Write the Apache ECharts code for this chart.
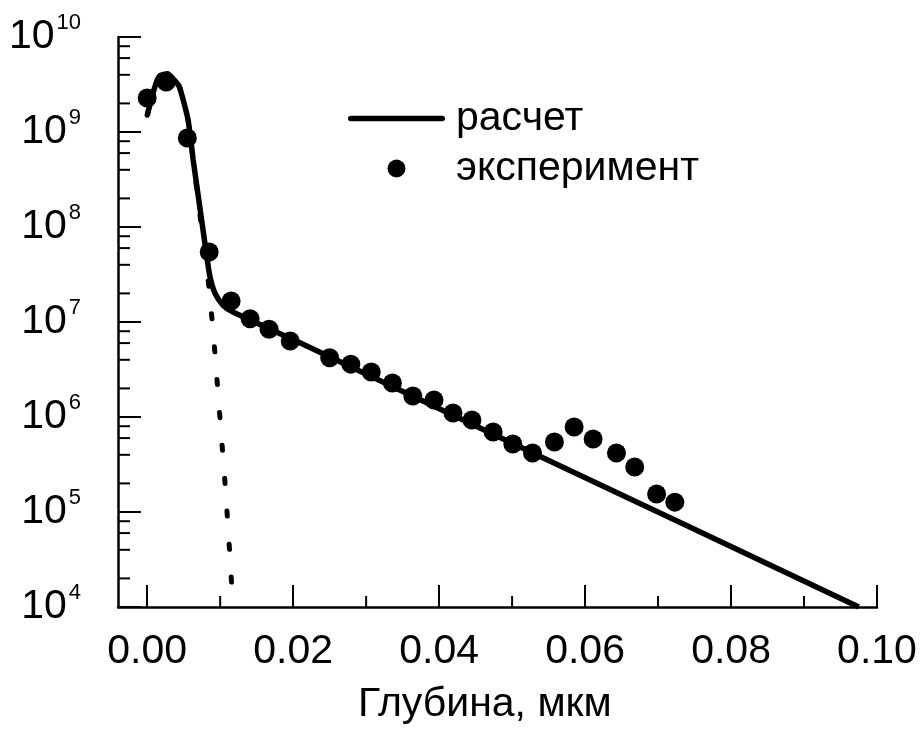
<!DOCTYPE html>
<html>
<head>
<meta charset="utf-8">
<script src="https://cdn.jsdelivr.net/npm/echarts@6/dist/echarts.min.js"></script>
<style>
html,body{margin:0;padding:0;background:#fff;}
#chart{width:923px;height:729px;}
</style>
</head>
<body>
<div id="chart"></div>
<script>
// ---- data ----
const expDepth = [0.0000, 0.0026, 0.0055, 0.0085, 0.0115, 0.0141, 0.0167, 0.0196, 0.0250, 0.0279, 0.0307, 0.0336, 0.0364, 0.0393, 0.0419, 0.0445, 0.0474, 0.0501, 0.0528, 0.0558, 0.0585, 0.0611, 0.0643, 0.0668, 0.0698, 0.0723];
const expConc  = [2.28e9, 3.36e9, 8.65e8, 5.46e7, 1.66e7, 1.08e7, 8.4e6, 6.3e6, 4.2e6, 3.6e6, 2.98e6, 2.28e6, 1.66e6, 1.51e6, 1.1e6, 9.3e5, 6.95e5, 5.2e5, 4.18e5, 5.46e5, 7.85e5, 5.87e5, 4.18e5, 2.98e5, 1.55e5, 1.27e5];

const calcDepth = [0.0000, 0.0010, 0.0017, 0.0028, 0.0036, 0.0044, 0.0056, 0.0063, 0.0072, 0.0081, 0.0086, 0.0093, 0.0104, 0.0117, 0.0210, 0.0540, 0.0975];
const calcConc  = [1.5e9, 2.9e9, 3.9e9, 4.1e9, 3.6e9, 3.0e9, 1.34e9, 5.1e8, 1.64e8, 5.3e7, 3.0e7, 2.0e7, 1.5e7, 1.28e7, 6.0e6, 3.8e5, 1.0e4];

const dotDepth = [0.0000, 0.0010, 0.0017, 0.0028, 0.0036, 0.0044, 0.0056, 0.0063, 0.0072, 0.0085, 0.0093, 0.0100, 0.0107, 0.0113, 0.0116];
const dotConc  = [1.5e9, 2.9e9, 3.9e9, 4.1e9, 3.6e9, 3.0e9, 1.34e9, 5.1e8, 1.4e8, 2.2e7, 4.5e6, 9.1e5, 1.85e5, 3.8e4, 1.6e4];

const xTickLabels = ['0.00', '0.02', '0.04', '0.06', '0.08', '0.10'];
const xMinorTicks = [0.01, 0.03, 0.05, 0.07, 0.09];
const yDecades = [4, 5, 6, 7, 8, 9];
const yMinorMult = [2, 4, 6, 8];

const legendCalc = 'расчет';
const legendExp = 'эксперимент';
const xTitle = 'Глубина, мкм';

// ---- build ----
const FONT = '"Liberation Sans", Arial, sans-serif';
const yMinorTicks = [];
yDecades.forEach(d => yMinorMult.forEach(m => yMinorTicks.push(m * Math.pow(10, d))));

const chart = echarts.init(document.getElementById('chart'), null, {renderer: 'canvas'});

const option = {
  animation: false,
  backgroundColor: '#ffffff',
  grid: {left: 118, right: 46, top: 37, bottom: 122, containLabel: false},
  legend: {
    data: [
      {name: legendCalc, icon: 'path://M2.75,0L94.25,0A2.75,2.75,0,0,1,94.25,5.5L2.75,5.5A2.75,2.75,0,0,1,2.75,0Z'},
      {name: legendExp, icon: 'circle'}
    ],
    orient: 'vertical',
    left: 343,
    top: 93,
    itemWidth: 97,
    itemHeight: 18,
    itemGap: 9,
    selectedMode: false,
    textStyle: {fontFamily: FONT, fontSize: 41, color: '#000', lineHeight: 41, padding: [0, 0, 0, 6]}
  },
  xAxis: {
    type: 'value',
    min: -0.004,
    max: 0.1,
    splitNumber: 5,
    axisLine: {onZero: false, lineStyle: {color: '#000', width: 2.5}},
    axisTick: {inside: true, length: 22, lineStyle: {color: '#000', width: 2}},
    minorTick: {show: false},
    splitLine: {show: false},
    axisLabel: {
      showMinLabel: false,
      margin: 24,
      fontFamily: FONT, fontSize: 41, color: '#000',
      formatter: v => {
        const s = v.toFixed(2);
        return xTickLabels.indexOf(s) >= 0 ? s : '';
      }
    }
  },
  yAxis: {
    type: 'log',
    logBase: 10,
    min: 1e4,
    max: 1e10,
    splitNumber: 6,
    axisLine: {show: true, onZero: false, lineStyle: {color: '#000', width: 2.5}},
    axisTick: {show: true, inside: true, length: 23, lineStyle: {color: '#000', width: 2}},
    splitLine: {show: false},
    axisLabel: {
      margin: 37,
      fontFamily: FONT, color: '#000',
      formatter: v => '{a|10}{b|' + Math.round(Math.log10(v)) + '}',
      rich: {
        a: {fontFamily: FONT, fontSize: 41, lineHeight: 41, color: '#000'},
        b: {fontFamily: FONT, fontSize: 22, lineHeight: 22, color: '#000', padding: [0, 0, 28, 2]}
      }
    }
  },
  series: [
    {
      name: 'профиль',
      type: 'line',
      data: dotDepth.map((x, i) => [x, dotConc[i]]),
      showSymbol: false,
      symbol: 'none',
      smooth: 0.2,
      silent: true,
      z: 1,
      lineStyle: {color: '#000', width: 5, type: [5, 28], cap: 'round'}
    },
    {
      name: legendCalc,
      type: 'line',
      data: calcDepth.map((x, i) => [x, calcConc[i]]),
      showSymbol: false,
      symbol: 'none',
      smooth: 0.2,
      silent: true,
      z: 2,
      lineStyle: {color: '#000', width: 5.5},
      itemStyle: {color: '#000'}
    },
    {
      name: legendExp,
      type: 'scatter',
      data: expDepth.map((x, i) => [x, expConc[i]]),
      symbol: 'circle',
      symbolSize: 19,
      silent: true,
      z: 3,
      itemStyle: {color: '#000', opacity: 1}
    },
    {
      name: 'yminor',
      type: 'custom',
      silent: true,
      clip: false,
      data: yMinorTicks.map(v => [0, v]),
      renderItem: (params, api) => {
        const p = api.coord([api.value(0), api.value(1)]);
        const x0 = params.coordSys.x;
        return {type: 'line', shape: {x1: x0, y1: p[1], x2: x0 + 12, y2: p[1]},
                style: {stroke: '#000', lineWidth: 2}};
      }
    },
    {
      name: 'xminor',
      type: 'custom',
      silent: true,
      clip: false,
      data: xMinorTicks.map(v => [v, 1e4]),
      renderItem: (params, api) => {
        const p = api.coord([api.value(0), api.value(1)]);
        const y0 = params.coordSys.y + params.coordSys.height;
        return {type: 'line', shape: {x1: p[0], y1: y0, x2: p[0], y2: y0 - 11},
                style: {stroke: '#000', lineWidth: 2}};
      }
    }
  ],
  graphic: [{
    type: 'text',
    left: 484 - 126,
    top: 684,
    style: {text: xTitle, fontFamily: FONT, fontSize: 41, fill: '#000'}
  }]
};
chart.setOption(option);
</script>
</body>
</html>
